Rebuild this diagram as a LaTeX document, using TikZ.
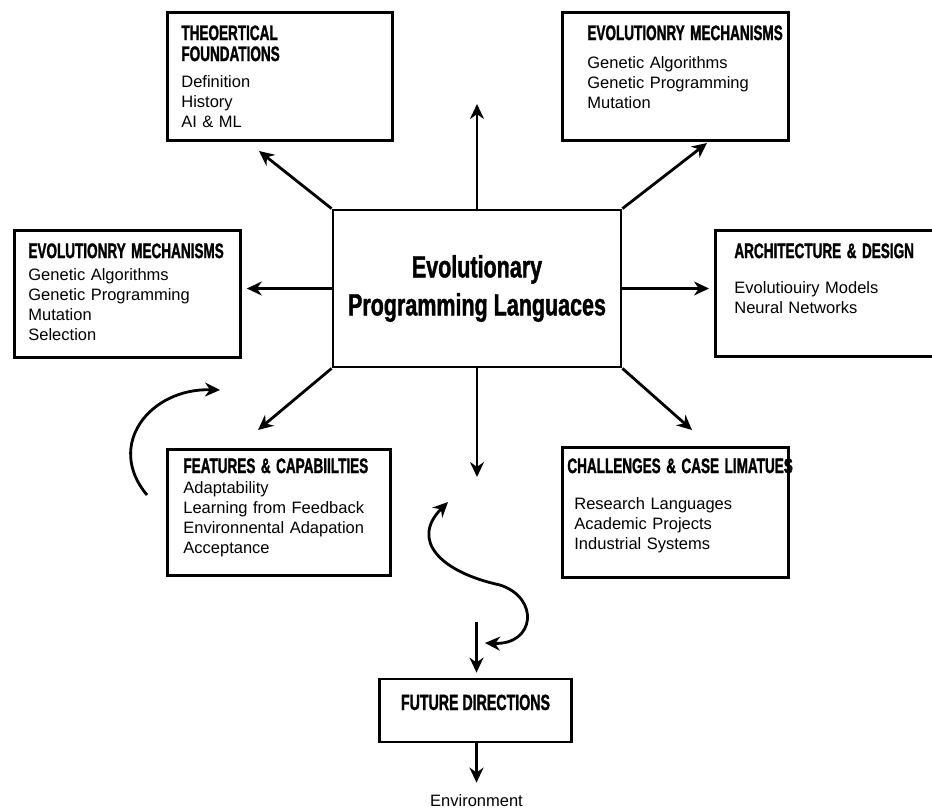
\documentclass[tikz,border=0pt]{standalone}
\usepackage{fontspec}
\setmainfont{Liberation Sans}
\newfontfamily\headfont[FakeStretch=0.645,FakeBold=1.3]{Liberation Sans}
\newfontfamily\titlefont[FakeStretch=0.70,FakeBold=1.3]{Liberation Sans}
\usetikzlibrary{arrows.meta, positioning}

\newcommand{\boxhead}[1]{{\headfont\bfseries\fontsize{21}{20}\selectfont #1}}

\begin{document}
\begin{tikzpicture}
            [x=1pt, y=-1pt, ->, >={Stealth[length=15pt,width=14pt]}, line width=2.8pt,
            panel/.style={rectangle, draw=black, anchor=north west, inner sep=0pt},
            itemtext/.style={align=left, inner sep=0pt, text width=250pt, font=\fontsize{16.5}{20}\selectfont}]

            \useasboundingbox (0,0) rectangle (932,809);

            \node[panel, anchor=center, minimum width=288pt, minimum height=157pt, align=center,
                  font=\titlefont\bfseries\fontsize{30.7}{38}\selectfont] (epl) at (477,288.5) {Evolutionary\\Programming Languaces};

            \node[panel, minimum width=225pt, minimum height=128pt] (theo) at (166,11) {};
            \node[panel, minimum width=226pt, minimum height=128pt] (evotr) at (561,11) {};
            \node[panel, minimum width=226pt, minimum height=127pt] (evol) at (13,229) {};
            \node[panel, minimum width=240pt, minimum height=126pt] (arch) at (714,229) {};
            \node[panel, minimum width=223pt, minimum height=126pt] (feat) at (166,448) {};
            \node[panel, minimum width=226pt, minimum height=130pt] (chal) at (561,446) {};

            \node[itemtext, below right=13pt and 14pt of theo.north west] (theotext)
                {\boxhead{THEOERTICAL\\[1pt]FOUNDATIONS}\\[6pt]Definition\\History\\AI \& ML};
            \node[itemtext, below right=13pt and 25pt of evotr.north west] (evotrtext)
                {\boxhead{EVOLUTIONRY MECHANISMS}\\[8pt]Genetic Algorithms\\Genetic Programming\\Mutation};
            \node[itemtext, below right=13pt and 14pt of evol.north west] (evoltext)
                {\boxhead{EVOLUTIONRY MECHANISMS}\\[2pt]Genetic Algorithms\\Genetic Programming\\Mutation\\Selection};
            \node[itemtext, below right=13pt and 19pt of arch.north west] (archtext)
                {\boxhead{ARCHITECTURE \& DESIGN}\\[15pt]Evolutiouiry Models\\Neural Networks};
            \node[itemtext, below right=9pt and 16pt of feat.north west] (feattext)
                {\boxhead{FEATURES \& CAPABIILTIES}\\Adaptability\\Learning from Feedback\\Environnental Adapation\\Acceptance};
            \node[itemtext, below right=11pt and 12pt of chal.north west] (chaltext)
                {\hspace*{-7pt}\boxhead{CHALLENGES \& CASE LIMATUES}\\[16pt]Research Languages\\Academic Projects\\Industrial Systems};

            \node[panel, anchor=center, minimum width=192pt, inner ysep=16pt, text height=15pt, text depth=16pt,
                  font=\headfont\bfseries\fontsize{22}{20}\selectfont] (fut) at (475.5,710.5) {FUTURE DIRECTIONS};
            \node[inner sep=0pt, anchor=base, font=\fontsize{16.5}{20}\selectfont] (env) at (476.5,806) {Environment};

            % free arrow ends
            \coordinate (tn) at (477,104);
            \coordinate (ts) at (477,477);
            \coordinate (tnw) at (259,151);
            \coordinate (tne) at (707,143);
            \coordinate (tsw) at (258,430);
            \coordinate (tse) at (692,430);
            \coordinate (la) at (147,495);
            \coordinate (lb) at (220,390);
            \coordinate (sa) at (448,502);
            \coordinate (sb) at (485,643);
            \coordinate (fa) at (476.5,622);

            \draw (epl.north) -- (tn);
            \draw (epl.south) -- (ts);
            \draw (epl.north west) -- (tnw);
            \draw (epl.north east) -- (tne);
            \draw (epl.south west) -- (tsw);
            \draw (epl.south east) -- (tse);
            \draw [shorten >=5pt] (epl.west) -- (evol.east |- epl.west);
            \draw [shorten >=5pt] (epl.east) -- (arch.west |- epl.east);

            \draw (la) .. controls (105,445) and (150,388) .. (lb);
            \draw [<->] (sa) .. controls (410,540) and (440,572) .. (500,585)
                             .. controls (540,598) and (535,645) .. (sb);

            \draw [shorten >=5pt] (fa) -- (fut.north -| fa);
            \draw [shorten >=10pt] (fut.south -| fa) -- (env);
        \end{tikzpicture}
\end{document}
